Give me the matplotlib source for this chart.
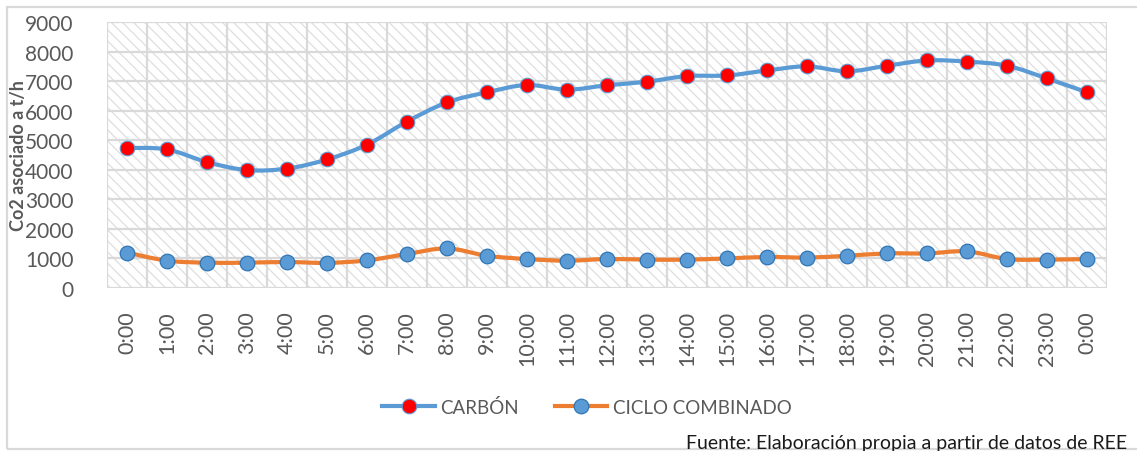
import numpy as np
import matplotlib
matplotlib.use("Agg")
import matplotlib.pyplot as plt
from matplotlib.path import Path
from matplotlib.patches import PathPatch, Rectangle
from matplotlib.lines import Line2D

plt.rcParams['font.family'] = ['Lato', 'DejaVu Sans']
plt.rcParams['hatch.linewidth'] = 0.9

hours = ['0:00', '1:00', '2:00', '3:00', '4:00', '5:00', '6:00', '7:00', '8:00',
         '9:00', '10:00', '11:00', '12:00', '13:00', '14:00', '15:00', '16:00',
         '17:00', '18:00', '19:00', '20:00', '21:00', '22:00', '23:00', '0:00']
carbon = [4740, 4690, 4260, 3990, 4040, 4350, 4850, 5630, 6280, 6620, 6870, 6710,
          6860, 6980, 7170, 7190, 7360, 7500, 7330, 7520, 7700, 7660, 7520, 7090, 6620]
combined_cycle = [1200, 925, 857, 857, 880, 850, 935, 1150, 1340, 1090, 980, 925,
                  980, 960, 960, 1000, 1050, 1030, 1090, 1170, 1170, 1240, 980, 960, 980]
series_names = ['CARBÓN', 'CICLO COMBINADO']
y_ticks = [0, 1000, 2000, 3000, 4000, 5000, 6000, 7000, 8000, 9000]

TEXT = '#595959'
GRID = '#d9d9d9'
BLUE = '#5b9bd5'
ORANGE = '#ed7d31'


def smooth_path(xs, ys):
    """Catmull-Rom style cubic Bezier through the points (spreadsheet 'smoothed line')."""
    pts = np.column_stack([xs, ys]).astype(float)
    n = len(pts)
    verts = [pts[0]]
    codes = [Path.MOVETO]
    for i in range(n - 1):
        p0 = pts[i - 1] if i > 0 else pts[i]
        p1 = pts[i]
        p2 = pts[i + 1]
        p3 = pts[i + 2] if i + 2 < n else pts[i + 1]
        c1 = p1 + (p2 - p0) / 6.0
        c2 = p2 - (p3 - p1) / 6.0
        verts += [c1, c2, p2]
        codes += [Path.CURVE4] * 3
    return Path(verts, codes)


fig = plt.figure(figsize=(11.37, 4.52), dpi=100)

# outer chart frame
fig.patches.append(Rectangle((7 / 1137, 1 - 450 / 452), 1.2, (450 - 8) / 452,
                             transform=fig.transFigure, fill=False,
                             edgecolor=GRID, linewidth=1.6, zorder=0))

ax = fig.add_axes([107 / 1137, 1 - 289 / 452, 1000 / 1137, 266 / 452])
ax.patch.set_facecolor('white')
ax.patch.set_edgecolor('#dedede')
ax.patch.set_linewidth(0)
ax.patch.set_hatch('\\\\\\')

x = np.arange(len(hours))
ax.set_xlim(-0.5, len(hours) - 0.5)
ax.set_ylim(0, 9000)

# grid: horizontal at ticks, vertical at category boundaries
for yv in y_ticks:
    ax.axhline(yv, color=GRID, linewidth=1.6, zorder=1)
for b in np.arange(-0.5, len(hours), 1.0):
    ax.axvline(b, color=GRID, linewidth=1.6, zorder=1)

for s in ax.spines.values():
    s.set_visible(False)

# series
ax.add_patch(PathPatch(smooth_path(x, carbon), fill=False, edgecolor=BLUE,
                       linewidth=3.0, capstyle='round', joinstyle='round', zorder=3))
ax.plot(x, carbon, linestyle='none', marker='o', markersize=10.5,
        markerfacecolor='#ff0000', markeredgecolor=BLUE, markeredgewidth=0.8, zorder=4)

ax.add_patch(PathPatch(smooth_path(x, combined_cycle), fill=False, edgecolor=ORANGE,
                       linewidth=3.0, capstyle='round', joinstyle='round', zorder=3))
ax.plot(x, combined_cycle, linestyle='none', marker='o', markersize=10.5,
        markerfacecolor=BLUE, markeredgecolor='#2e75b6', markeredgewidth=0.9, zorder=4)

ax.set_yticks(y_ticks)
ax.set_yticklabels([str(v) for v in y_ticks], fontsize=15, color=TEXT)
ax.set_xticks(x)
ax.set_xticklabels(hours, rotation=90, fontsize=15.5, color=TEXT)
ax.tick_params(axis='both', length=0)
ax.tick_params(axis='y', pad=24)
ax.tick_params(axis='x', pad=16)

fig.text(19 / 1137, 1 - 156 / 452, 'Co2 asociado a t/h', rotation=90, fontsize=13,
         fontweight='bold', color=TEXT, ha='center', va='center')

handles = [
    Line2D([], [], color=BLUE, linewidth=3.0, marker='o', markersize=10.5,
           markerfacecolor='#ff0000', markeredgecolor=BLUE, markeredgewidth=0.8),
    Line2D([], [], color=ORANGE, linewidth=3.0, marker='o', markersize=10.5,
           markerfacecolor=BLUE, markeredgecolor='#2e75b6', markeredgewidth=0.9),
]
leg = fig.legend(handles, series_names, loc='center', ncol=2,
                 bbox_to_anchor=(587 / 1137, 1 - 408 / 452), frameon=False,
                 fontsize=13.5, handlelength=2.8, handletextpad=0.3,
                 columnspacing=1.9, labelcolor=TEXT)

fig.text(1127 / 1137, 1 - 449 / 452, 'Fuente: Elaboración propia a partir de datos de REE',
         fontsize=14, color='#1a1a1a', ha='right', va='baseline')

fig.savefig('out.png', dpi=100)
